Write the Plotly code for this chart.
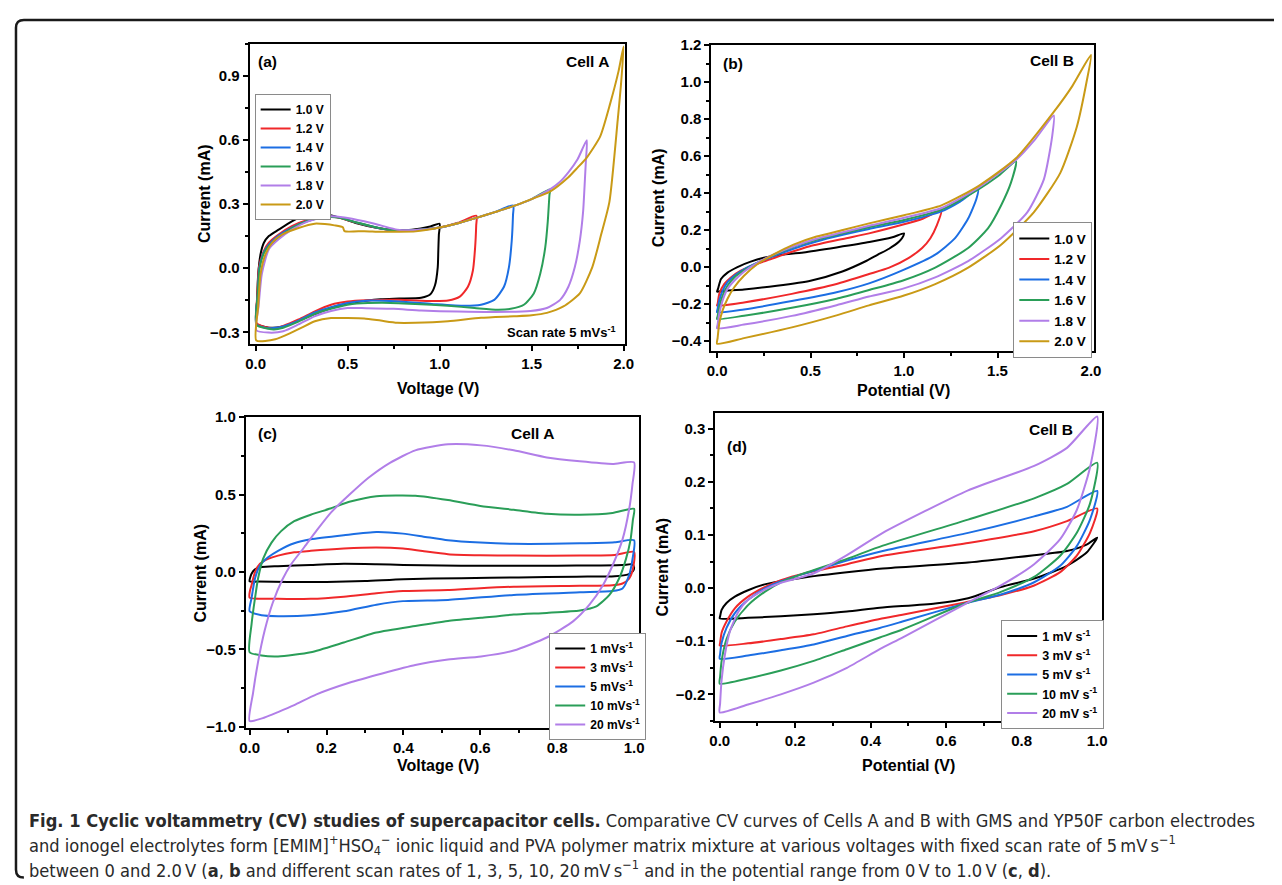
import plotly.graph_objects as go

# The page body keeps an 8px margin: the figure starts at page pixel (8, 8) and fills the rest of the window.
W, H = 1282, 885
PAD = 8
FW, FH = W - PAD, H - PAD
FONT = "Liberation Sans, Arial, Helvetica, sans-serif"
CAP_FONT = "DejaVu Sans Condensed, Liberation Sans Narrow, Arial Narrow, sans-serif"

# ---------------- Panel (a): Cell A, various voltage windows, 5 mV/s ----------------
A_NAMES = ["1.0 V", "1.2 V", "1.4 V", "1.6 V", "1.8 V", "2.0 V"]
A10_FWD = [(0.004,-0.26),(0.008,-0.15),(0.014,-0.03),(0.027,0.066),(0.045,0.119),(0.072,0.15),(0.125,0.18),(0.197,0.219),(0.286,0.257),(0.322,0.26),(0.376,0.253),(0.465,0.234),(0.55,0.21),(0.65,0.19),(0.75,0.178),(0.85,0.18),(0.95,0.195),(1.0,0.208)]
A10_REV = [(0.996,0.157),(0.993,0.081),(0.99,0.005),(0.975,-0.08),(0.95,-0.122),(0.9,-0.138),(0.78,-0.142),(0.68,-0.145),(0.6,-0.152),(0.5,-0.165),(0.41,-0.185),(0.32,-0.215),(0.233,-0.245),(0.143,-0.274),(0.072,-0.278),(0.02,-0.268),(0.004,-0.26)]
A12_FWD = [(0.004,-0.255),(0.01,-0.12),(0.018,0.005),(0.045,0.081),(0.072,0.119),(0.125,0.157),(0.197,0.196),(0.286,0.226),(0.376,0.242),(0.447,0.237),(0.555,0.211),(0.68,0.185),(0.77,0.175),(0.87,0.178),(1.0,0.19),(1.1,0.212),(1.2,0.245)]
A12_REV = [(1.199,0.2),(1.193,0.096),(1.181,-0.011),(1.154,-0.087),(1.11,-0.133),(1.046,-0.151),(0.957,-0.153),(0.778,-0.148),(0.6,-0.15),(0.5,-0.156),(0.41,-0.171),(0.322,-0.202),(0.233,-0.24),(0.15,-0.27),(0.107,-0.28),(0.05,-0.275),(0.004,-0.255)]
A14_FWD = [(0.004,-0.262),(0.012,-0.12),(0.02,0.0),(0.045,0.075),(0.072,0.11),(0.125,0.152),(0.197,0.19),(0.286,0.222),(0.376,0.24),(0.45,0.238),(0.555,0.212),(0.68,0.185),(0.77,0.175),(0.87,0.178),(1.0,0.19),(1.1,0.21),(1.2,0.235),(1.3,0.262),(1.4,0.293)]
A14_REV = [(1.399,0.249),(1.392,0.127),(1.377,0.005),(1.35,-0.087),(1.297,-0.148),(1.225,-0.171),(1.136,-0.176),(0.957,-0.167),(0.778,-0.156),(0.6,-0.152),(0.5,-0.163),(0.41,-0.182),(0.322,-0.207),(0.233,-0.245),(0.15,-0.272),(0.1,-0.28),(0.05,-0.278),(0.004,-0.262)]
A16_FWD = [(0.004,-0.265),(0.012,-0.12),(0.022,0.0),(0.045,0.07),(0.072,0.104),(0.125,0.142),(0.197,0.187),(0.286,0.222),(0.376,0.237),(0.447,0.237),(0.555,0.212),(0.68,0.186),(0.77,0.176),(0.87,0.178),(1.0,0.19),(1.1,0.21),(1.2,0.235),(1.3,0.262),(1.4,0.29),(1.5,0.323),(1.6,0.368)]
A16_REV = [(1.597,0.341),(1.588,0.219),(1.574,0.096),(1.547,-0.026),(1.512,-0.118),(1.458,-0.171),(1.387,-0.19),(1.315,-0.194),(1.19,-0.186),(1.046,-0.176),(0.868,-0.167),(0.689,-0.161),(0.55,-0.165),(0.5,-0.171),(0.41,-0.19),(0.322,-0.214),(0.233,-0.25),(0.15,-0.278),(0.1,-0.286),(0.05,-0.28),(0.004,-0.265)]
A18_FWD = [(0.004,-0.29),(0.016,-0.179),(0.034,-0.026),(0.072,0.089),(0.125,0.135),(0.197,0.18),(0.286,0.219),(0.394,0.242),(0.483,0.237),(0.59,0.219),(0.68,0.2),(0.77,0.18),(0.87,0.178),(1.0,0.19),(1.1,0.21),(1.2,0.235),(1.3,0.262),(1.4,0.29),(1.5,0.323),(1.6,0.368),(1.65,0.4),(1.7,0.448),(1.75,0.509),(1.8,0.598)]
A18_REV = [(1.795,0.5),(1.79,0.417),(1.78,0.264),(1.762,0.127),(1.735,0.005),(1.7,-0.087),(1.655,-0.148),(1.583,-0.186),(1.494,-0.2),(1.3,-0.205),(1.1,-0.203),(0.9,-0.198),(0.75,-0.19),(0.6,-0.187),(0.5,-0.186),(0.41,-0.2),(0.32,-0.225),(0.233,-0.263),(0.15,-0.295),(0.07,-0.301),(0.004,-0.29)]
A20_FWD = [(0.004,-0.338),(0.014,-0.179),(0.027,-0.026),(0.054,0.066),(0.09,0.119),(0.143,0.157),(0.233,0.188),(0.322,0.208),(0.376,0.206),(0.429,0.2),(0.474,0.191),(0.483,0.173),(0.59,0.173),(0.68,0.17),(0.77,0.17),(0.87,0.172),(1.0,0.19),(1.1,0.21),(1.2,0.235),(1.3,0.262),(1.4,0.29),(1.5,0.323),(1.6,0.358),(1.7,0.425),(1.75,0.47),(1.8,0.517),(1.873,0.616),(1.927,0.769),(1.973,0.922),(2.0,1.036)]
A20_REV = [(1.985,0.85),(1.968,0.692),(1.923,0.31),(1.878,0.157),(1.83,0.005),(1.762,-0.118),(1.673,-0.179),(1.583,-0.209),(1.5,-0.22),(1.404,-0.225),(1.225,-0.232),(1.046,-0.248),(0.868,-0.255),(0.77,-0.255),(0.68,-0.245),(0.59,-0.235),(0.5,-0.233),(0.41,-0.233),(0.322,-0.248),(0.25,-0.278),(0.197,-0.3),(0.107,-0.332),(0.004,-0.338)]

# ---------------- Panel (b): Cell B, various voltage windows ----------------
B_NAMES = ["1.0 V", "1.2 V", "1.4 V", "1.6 V", "1.8 V", "2.0 V"]
B10_FWD = [(0.0,-0.132),(0.005,-0.117),(0.021,-0.064),(0.056,-0.029),(0.109,0.001),(0.18,0.03),(0.25,0.051),(0.32,0.065),(0.463,0.08),(0.639,0.107),(0.815,0.136),(0.938,0.162),(1.0,0.183)]
B10_REV = [(0.99,0.158),(0.974,0.139),(0.92,0.1),(0.86,0.068),(0.8,0.035),(0.67,-0.023),(0.5,-0.073),(0.32,-0.1),(0.144,-0.12),(0.03,-0.128),(0.0,-0.132)]
B12_FWD = [(0.0,-0.207),(0.003,-0.197),(0.012,-0.144),(0.039,-0.09),(0.074,-0.055),(0.127,-0.019),(0.197,0.013),(0.285,0.043),(0.373,0.074),(0.496,0.113),(0.673,0.153),(0.813,0.183),(1.0,0.232),(1.1,0.262),(1.2,0.307)]
B12_REV = [(1.176,0.228),(1.141,0.157),(1.097,0.104),(1.026,0.051),(0.921,-0.002),(0.813,-0.037),(0.639,-0.091),(0.4,-0.144),(0.144,-0.19),(0.0,-0.207)]
B14_FWD = [(0.0,-0.243),(0.003,-0.225),(0.012,-0.179),(0.03,-0.126),(0.056,-0.081),(0.092,-0.046),(0.144,-0.011),(0.215,0.024),(0.303,0.06),(0.409,0.1),(0.532,0.139),(0.673,0.175),(0.813,0.207),(1.0,0.246),(1.2,0.302),(1.3,0.355),(1.396,0.422)]
B14_REV = [(1.387,0.369),(1.343,0.263),(1.273,0.157),(1.167,0.068),(0.991,-0.017),(0.813,-0.087),(0.639,-0.135),(0.4,-0.183),(0.144,-0.228),(0.0,-0.243)]
B16_FWD = [(0.0,-0.28),(0.003,-0.265),(0.012,-0.215),(0.03,-0.153),(0.056,-0.1),(0.092,-0.055),(0.144,-0.017),(0.215,0.024),(0.303,0.065),(0.409,0.11),(0.532,0.148),(0.673,0.184),(0.813,0.216),(1.0,0.255),(1.2,0.311),(1.4,0.422),(1.5,0.49),(1.599,0.572)]
B16_REV = [(1.572,0.457),(1.519,0.334),(1.449,0.21),(1.343,0.104),(1.167,-0.002),(0.991,-0.073),(0.813,-0.123),(0.639,-0.17),(0.4,-0.219),(0.144,-0.262),(0.0,-0.28)]
B18_FWD = [(0.0,-0.33),(0.003,-0.31),(0.012,-0.25),(0.03,-0.179),(0.056,-0.117),(0.092,-0.073),(0.144,-0.024),(0.215,0.024),(0.303,0.069),(0.409,0.113),(0.532,0.154),(0.673,0.189),(0.813,0.224),(1.0,0.267),(1.2,0.32),(1.4,0.431),(1.6,0.581),(1.7,0.69),(1.801,0.82)]
B18_REV = [(1.792,0.705),(1.748,0.475),(1.66,0.298),(1.519,0.157),(1.343,0.033),(1.167,-0.055),(0.991,-0.117),(0.813,-0.158),(0.639,-0.205),(0.4,-0.263),(0.144,-0.31),(0.0,-0.33)]
B20_FWD = [(0.0,-0.413),(0.003,-0.383),(0.012,-0.303),(0.03,-0.232),(0.056,-0.17),(0.092,-0.108),(0.144,-0.046),(0.215,0.016),(0.303,0.069),(0.409,0.122),(0.532,0.166),(0.673,0.201),(0.813,0.237),(1.0,0.281),(1.2,0.334),(1.4,0.44),(1.6,0.59),(1.8,0.838),(1.9,0.979),(2.0,1.147)]
B20_REV = [(1.977,1.005),(1.924,0.758),(1.836,0.51),(1.695,0.298),(1.519,0.122),(1.343,-0.002),(1.167,-0.091),(1.0,-0.153),(0.813,-0.206),(0.639,-0.26),(0.4,-0.325),(0.144,-0.383),(0.0,-0.413)]

# ---------------- Panel (c): Cell A, various scan rates ----------------
C_NAMES = ["1 mVs<sup>-1</sup>", "3 mVs<sup>-1</sup>", "5 mVs<sup>-1</sup>", "10 mVs<sup>-1</sup>", "20 mVs<sup>-1</sup>"]
C1_FWD = [(0.0,-0.06),(0.005,-0.011),(0.014,0.017),(0.031,0.032),(0.074,0.038),(0.159,0.046),(0.245,0.053),(0.33,0.05),(0.4,0.046),(0.5,0.042),(0.6,0.04),(0.7,0.04),(0.8,0.041),(0.9,0.042),(0.97,0.045),(0.995,0.05)]
C1_REV = [(1.0,0.03),(0.997,0.005),(0.985,-0.015),(0.95,-0.027),(0.85,-0.03),(0.7,-0.035),(0.55,-0.04),(0.4,-0.046),(0.3,-0.058),(0.2,-0.064),(0.1,-0.064),(0.02,-0.062),(0.0,-0.06)]
C3_FWD = [(0.0,-0.165),(0.001,-0.12),(0.005,-0.085),(0.014,0.0),(0.027,0.053),(0.048,0.085),(0.074,0.106),(0.116,0.127),(0.159,0.137),(0.245,0.152),(0.33,0.159),(0.399,0.152),(0.45,0.135),(0.516,0.115),(0.6,0.108),(0.687,0.106),(0.859,0.106),(0.95,0.11),(1.0,0.13)]
C3_REV = [(0.997,0.02),(0.987,-0.042),(0.97,-0.074),(0.944,-0.085),(0.859,-0.089),(0.687,-0.095),(0.516,-0.116),(0.399,-0.123),(0.33,-0.137),(0.245,-0.159),(0.159,-0.173),(0.074,-0.173),(0.0,-0.165)]
C5_FWD = [(0.0,-0.254),(0.005,-0.169),(0.014,-0.042),(0.027,0.042),(0.048,0.095),(0.074,0.137),(0.116,0.186),(0.159,0.211),(0.245,0.237),(0.33,0.258),(0.399,0.248),(0.45,0.23),(0.516,0.205),(0.6,0.19),(0.687,0.182),(0.859,0.185),(0.95,0.192),(1.0,0.205)]
C5_REV = [(0.996,0.085),(0.987,-0.021),(0.97,-0.106),(0.944,-0.123),(0.859,-0.131),(0.687,-0.148),(0.516,-0.18),(0.399,-0.188),(0.33,-0.211),(0.245,-0.254),(0.159,-0.279),(0.074,-0.285),(0.031,-0.279),(0.0,-0.254)]
C10_FWD = [(0.0,-0.518),(0.005,-0.338),(0.014,-0.169),(0.022,-0.042),(0.035,0.085),(0.057,0.19),(0.082,0.264),(0.116,0.328),(0.159,0.37),(0.21,0.41),(0.262,0.455),(0.33,0.49),(0.431,0.493),(0.516,0.465),(0.6,0.427),(0.687,0.402),(0.773,0.376),(0.859,0.37),(0.944,0.381),(1.0,0.408)]
C10_REV = [(0.997,0.338),(0.991,0.211),(0.979,0.085),(0.961,-0.042),(0.936,-0.148),(0.902,-0.222),(0.859,-0.249),(0.773,-0.264),(0.687,-0.275),(0.602,-0.296),(0.516,-0.317),(0.431,-0.349),(0.33,-0.391),(0.245,-0.455),(0.159,-0.518),(0.074,-0.545),(0.031,-0.539),(0.0,-0.518)]
C20_FWD = [(0.0,-0.962),(0.009,-0.78),(0.022,-0.58),(0.039,-0.38),(0.06,-0.2),(0.085,-0.05),(0.108,0.05),(0.142,0.16),(0.175,0.27),(0.212,0.385),(0.26,0.5),(0.31,0.61),(0.365,0.705),(0.431,0.786),(0.516,0.825),(0.602,0.818),(0.687,0.786),(0.773,0.74),(0.859,0.715),(0.944,0.698),(1.0,0.708)]
C20_REV = [(0.996,0.571),(0.987,0.402),(0.97,0.211),(0.944,0.042),(0.919,-0.085),(0.884,-0.211),(0.842,-0.317),(0.773,-0.423),(0.687,-0.507),(0.602,-0.545),(0.516,-0.565),(0.431,-0.6),(0.345,-0.655),(0.259,-0.715),(0.174,-0.79),(0.116,-0.86),(0.074,-0.905),(0.039,-0.94),(0.0,-0.962)]

# ---------------- Panel (d): Cell B, various scan rates ----------------
D_NAMES = ["1 mV s<sup>-1</sup>", "3 mV s<sup>-1</sup>", "5 mV s<sup>-1</sup>", "10 mV s<sup>-1</sup>", "20 mV s<sup>-1</sup>"]
D1_FWD = [(0.0,-0.057),(0.001,-0.053),(0.005,-0.041),(0.018,-0.028),(0.04,-0.016),(0.075,-0.004),(0.119,0.007),(0.162,0.013),(0.232,0.021),(0.337,0.03),(0.432,0.037),(0.658,0.048),(0.833,0.062),(0.92,0.07),(0.972,0.082),(1.0,0.095)]
D1_REV = [(0.972,0.067),(0.92,0.042),(0.833,0.018),(0.745,0.002),(0.658,-0.019),(0.571,-0.029),(0.424,-0.037),(0.337,-0.044),(0.249,-0.049),(0.162,-0.053),(0.075,-0.056),(0.0,-0.057)]
D3_FWD = [(0.0,-0.108),(0.001,-0.103),(0.005,-0.084),(0.018,-0.063),(0.04,-0.038),(0.075,-0.016),(0.119,0.002),(0.162,0.015),(0.232,0.029),(0.337,0.045),(0.432,0.061),(0.658,0.085),(0.833,0.107),(0.92,0.126),(1.0,0.15)]
D3_REV = [(0.981,0.104),(0.946,0.061),(0.902,0.03),(0.833,0.005),(0.745,-0.013),(0.65,-0.027),(0.484,-0.05),(0.424,-0.058),(0.337,-0.072),(0.249,-0.087),(0.162,-0.096),(0.075,-0.104),(0.0,-0.108)]
D5_FWD = [(0.0,-0.133),(0.001,-0.124),(0.005,-0.103),(0.018,-0.075),(0.04,-0.047),(0.075,-0.022),(0.119,-0.001),(0.162,0.013),(0.232,0.029),(0.337,0.052),(0.432,0.07),(0.658,0.104),(0.833,0.135),(0.92,0.153),(1.0,0.183)]
D5_REV = [(0.981,0.129),(0.946,0.079),(0.902,0.042),(0.833,0.011),(0.745,-0.012),(0.65,-0.029),(0.484,-0.063),(0.424,-0.075),(0.337,-0.09),(0.249,-0.106),(0.162,-0.117),(0.075,-0.127),(0.0,-0.133)]
D10_FWD = [(0.0,-0.18),(0.001,-0.167),(0.005,-0.137),(0.018,-0.096),(0.04,-0.063),(0.075,-0.032),(0.119,-0.007),(0.162,0.011),(0.232,0.03),(0.337,0.055),(0.432,0.08),(0.658,0.129),(0.833,0.169),(0.92,0.196),(1.0,0.236)]
D10_REV = [(0.981,0.159),(0.946,0.104),(0.902,0.061),(0.833,0.021),(0.745,-0.007),(0.65,-0.029),(0.484,-0.078),(0.424,-0.093),(0.337,-0.115),(0.249,-0.137),(0.162,-0.155),(0.075,-0.17),(0.0,-0.18)]
D20_FWD = [(0.0,-0.234),(0.001,-0.217),(0.005,-0.173),(0.014,-0.124),(0.027,-0.081),(0.049,-0.045),(0.075,-0.022),(0.119,-0.003),(0.162,0.01),(0.25,0.028),(0.337,0.062),(0.432,0.104),(0.658,0.184),(0.833,0.23),(0.92,0.264),(1.0,0.323)]
D20_REV = [(0.981,0.227),(0.946,0.147),(0.902,0.092),(0.833,0.045),(0.745,0.005),(0.65,-0.03),(0.484,-0.093),(0.424,-0.115),(0.337,-0.15),(0.249,-0.178),(0.162,-0.2),(0.075,-0.219),(0.0,-0.234)]

COLORS = ["#000000", "#f0282a", "#1c6ee3", "#2a9e58", "#b17ee8", "#c99a16"]


def fx(p):
    """page pixel x -> paper fraction"""
    return (p - PAD) / FW


def fy(p):
    """page pixel y -> paper fraction"""
    return 1 - (p - PAD) / FH


def loop(fwd, rev):
    pts = fwd + rev
    return [p[0] for p in pts], [p[1] for p in pts]


fig = go.Figure()

panels = [
    ("x", "y", "legend", A_NAMES, [(A10_FWD, A10_REV), (A12_FWD, A12_REV), (A14_FWD, A14_REV),
                                    (A16_FWD, A16_REV), (A18_FWD, A18_REV), (A20_FWD, A20_REV)]),
    ("x2", "y2", "legend2", B_NAMES, [(B10_FWD, B10_REV), (B12_FWD, B12_REV), (B14_FWD, B14_REV),
                                       (B16_FWD, B16_REV), (B18_FWD, B18_REV), (B20_FWD, B20_REV)]),
    ("x3", "y3", "legend3", C_NAMES, [(C1_FWD, C1_REV), (C3_FWD, C3_REV), (C5_FWD, C5_REV),
                                       (C10_FWD, C10_REV), (C20_FWD, C20_REV)]),
    ("x4", "y4", "legend4", D_NAMES, [(D1_FWD, D1_REV), (D3_FWD, D3_REV), (D5_FWD, D5_REV),
                                       (D10_FWD, D10_REV), (D20_FWD, D20_REV)]),
]

for xa, ya, lg, names, loops in panels:
    for i, (name, (fwd, rev)) in enumerate(zip(names, loops)):
        xs, ys = loop(fwd, rev)
        fig.add_trace(go.Scatter(
            x=xs, y=ys, mode="lines", name=name, xaxis=xa, yaxis=ya, legend=lg,
            line=dict(color=COLORS[i], width=2, shape="spline", smoothing=0.6),
            hoverinfo="skip"))

TICKFONT = dict(family=FONT, size=15, color="black", weight="bold")
TITLEFONT = dict(family=FONT, size=16, color="black", weight="bold")


def make_axis(domain, rng, dtick, mdtick, anchor):
    return dict(
        domain=domain, range=rng, anchor=anchor, tick0=0, dtick=dtick, tickformat=".1f",
        showline=True, linecolor="black", linewidth=2, mirror=True,
        ticks="outside", ticklen=5, tickwidth=2, tickcolor="black", tickfont=TICKFONT,
        minor=dict(ticks="outside", ticklen=3, tickwidth=1.5, tickcolor="black", dtick=mdtick, tick0=0),
        showgrid=False, zeroline=False, fixedrange=True,
    )


layout = dict(
    width=FW, height=FH, margin=dict(l=0, r=0, t=0, b=0),
    paper_bgcolor="white", plot_bgcolor="white", showlegend=True,
    xaxis=make_axis([fx(245.7), fx(626)], [-0.032, 2.009], 0.5, 0.25, "y"),
    yaxis=make_axis([fy(341), fy(35)], [-0.354, 1.05], 0.3, 0.15, "x"),
    xaxis2=make_axis([fx(713.3), fx(1100.7)], [-0.03, 2.016], 0.5, 0.25, "y2"),
    yaxis2=make_axis([fy(347.7), fy(36.7)], [-0.45, 1.2], 0.2, 0.1, "x2"),
    xaxis3=make_axis([fx(241.7), fx(640)], [-0.01, 1.013], 0.2, 0.1, "y3"),
    yaxis3=make_axis([fy(732.3), fy(415)], [-1.008, 1.004], 0.5, 0.25, "x3"),
    xaxis4=make_axis([fx(717.3), fx(1109.3)], [-0.0115, 1.014], 0.2, 0.1, "y4"),
    yaxis4=make_axis([fy(725), fy(411.7)], [-0.25, 0.329], 0.1, 0.05, "x4"),
)


def legend_at(px, py, size):
    return dict(x=fx(px), y=fy(py), xanchor="left", yanchor="top", bgcolor="white",
                bordercolor="#8a8a8a", borderwidth=1, itemwidth=30, tracegroupgap=0,
                font=dict(family=FONT, size=size, color="black", weight="bold"))


layout["legend"] = legend_at(250.7, 86.5, 12)
layout["legend2"] = legend_at(1019, 217, 13.5)
layout["legend3"] = legend_at(549, 635.5, 12)
layout["legend4"] = legend_at(1006.7, 622.5, 12.5)

fig.update_layout(**layout)

# axis titles (placed where the reference has them)
AXIS_TITLES = [
    ("Voltage (V)", 436.3, 386, 0), ("Current (mA)", 199.5, 188.3, -90),
    ("Potential (V)", 908.3, 388.3, 0), ("Current (mA)", 659.7, 192, -90),
    ("Voltage (V)", 436.3, 770, 0), ("Current (mA)", 196.3, 574, -90),
    ("Potential (V)", 913.3, 770, 0), ("Current (mA)", 664, 568, -90),
]
for text, px, py, ang in AXIS_TITLES:
    fig.add_annotation(x=fx(px), y=fy(py), xref="paper", yref="paper", text=text, showarrow=False,
                       xanchor="center", yanchor="middle", textangle=ang, font=TITLEFONT)

# panel labels
LABELS = [
    ("(a)", 263.5, 53), ("Cell A", 588, 53),
    ("(b)", 735, 55.5), ("Cell B", 1058, 52),
    ("(c)", 263.5, 432.5), ("Cell A", 532, 432.5),
    ("(d)", 739.5, 445.5), ("Cell B", 1057.5, 428.5),
]
for text, px, py in LABELS:
    fig.add_annotation(x=fx(px), y=fy(py), xref="paper", yref="paper", text=text, showarrow=False,
                       xanchor="center", yanchor="middle",
                       font=dict(family=FONT, size=15.5, color="black", weight="bold"))

fig.add_annotation(x=fx(618.5), y=fy(328.5), xref="paper", yref="paper",
                   text="Scan rate 5 mVs<sup>-1</sup>", showarrow=False, xanchor="right", yanchor="middle",
                   font=dict(family=FONT, size=13, color="black", weight="bold"))

# caption
CAPTION = [
    "<b>Fig. 1 Cyclic voltammetry (CV) studies of supercapacitor cells.</b> Comparative CV curves of Cells A and B with GMS and YP50F carbon electrodes",
    "and ionogel electrolytes form [EMIM]<sup>+</sup>HSO<sub>4</sub><sup>\u2212</sup> ionic liquid and PVA polymer matrix mixture at various voltages with fixed scan rate of 5\u2009mV\u2009s<sup>\u22121</sup>",
    "between 0 and 2.0\u2009V (<b>a</b>, <b>b</b> and different scan rates of 1, 3, 5, 10, 20\u2009mV\u2009s<sup>\u22121</sup> and in the potential range from 0\u2009V to 1.0\u2009V (<b>c</b>, <b>d</b>).",
]
for text, py in zip(CAPTION, [826, 851, 876]):
    fig.add_annotation(x=fx(20), y=fy(py), xref="paper", yref="paper", text=text, showarrow=False,
                       xanchor="left", yanchor="middle", align="left",
                       font=dict(family=CAP_FONT, size=18.1, color="#2a2a2a"))

# rounded frame around the figure
x0, yt, yb = fx(9), fy(11), fy(884.5)
rx, ry = 8 / FW, 8 / FH
frame = (f"M {x0 + rx},{yb} Q {x0},{yb} {x0},{yb + ry} L {x0},{yt - ry} "
         f"Q {x0},{yt} {x0 + rx},{yt} L 1.05,{yt}")
fig.add_shape(type="path", path=frame, xref="paper", yref="paper",
              line=dict(color="#1a1a1a", width=2.5))

fig.write_html("out.html", config={"displayModeBar": False})
